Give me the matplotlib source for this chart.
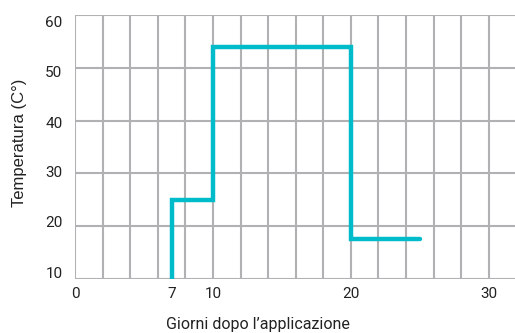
import matplotlib
matplotlib.use('Agg')
import matplotlib.pyplot as plt

# step profile: temperature vs days after application
days = [7, 7, 10, 10, 20, 20, 25]
temps = [10, 25, 25, 54, 54, 17.5, 17.5]

x_ticks = [0, 7, 10, 20, 30]
y_grid = [10, 20, 30, 40, 50, 60]
y_labels = ['10', '20', '30', '40', '50', '60']
# the labels in the original sit slightly off the grid lines
y_label_pos = [11.2, 20.9, 30.3, 39.7, 49.3, 58.8]

plt.rcParams['font.family'] = ['Roboto', 'DejaVu Sans']

fig = plt.figure(figsize=(5.15, 3.33), dpi=100)
ax = fig.add_axes([0.1456, 0.162, 0.8544, 0.793])

# grid lines
grid_col = '#b1b1b4'
for gx in range(0, 32, 2):
    ax.axvline(gx, color=grid_col, lw=1.5, zorder=1)
for gy in y_grid:
    ax.axhline(gy, color=grid_col, lw=1.5, zorder=1)

ax.plot(days, temps, color='#00bccb', lw=3.2, solid_joinstyle='miter',
        solid_capstyle='round', zorder=3)

ax.set_xlim(0, 31.9)
ax.set_ylim(10, 60)
ax.set_xticks(x_ticks)
ax.set_yticks(y_label_pos)
ax.set_yticklabels(y_labels)
ax.tick_params(length=0, labelsize=11, colors='#222222')
ax.tick_params(axis='x', pad=6)
ax.tick_params(axis='y', pad=9)
for s in ax.spines.values():
    s.set_visible(False)

fig.text(0.5, 0.027, 'Giorni dopo l\u2019applicazione', ha='center', va='center',
         fontsize=11.5, color='#222222')
fig.text(0.037, 0.57, 'Temperatura (C°)', ha='center', va='center', rotation=90,
         fontsize=12, color='#222222', family=['Liberation Sans', 'DejaVu Sans'])

fig.savefig('out.png', dpi=100)
